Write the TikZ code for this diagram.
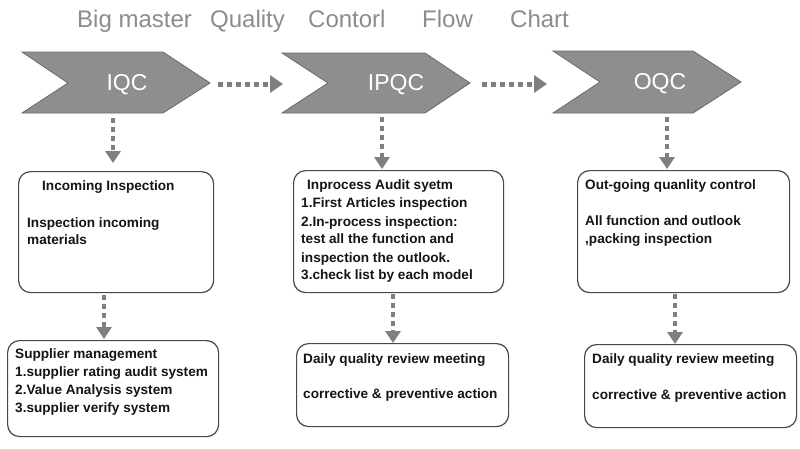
\documentclass[tikz,border=0pt]{standalone}
\usepackage{fontspec}
\setmainfont{Liberation Sans}
\usetikzlibrary{arrows.meta}
\definecolor{chevfill}{HTML}{8E8E8E}
\definecolor{chevline}{HTML}{6A6A6A}
\definecolor{arrowgray}{HTML}{7F7F7F}
\definecolor{titlegray}{HTML}{8C8C8C}
\definecolor{boxline}{HTML}{484848}
\definecolor{boxtext}{HTML}{151515}
\begin{document}
\begin{tikzpicture}[x=1pt,y=-1pt,
  chev/.style={fill=chevfill,draw=chevline,line width=0.8pt},
  chevtext/.style={text=white,font=\fontsize{23}{23}\selectfont,inner sep=0pt},
  titletext/.style={text=titlegray,font=\fontsize{24}{24}\selectfont,anchor=base west,inner sep=0pt},
  qbox/.style={draw=boxline,line width=1.2pt,rounded corners=12pt,fill=white,anchor=north west,inner sep=0pt},
  btext/.style={text=boxtext,font=\bfseries\fontsize{13.6}{13.6}\selectfont,anchor=base west,inner sep=0pt},
  hflow/.style={draw=arrowgray,line width=5pt,dash pattern=on 5pt off 4pt,-{Triangle[length=13pt,width=17pt]}},
  vflow/.style={draw=arrowgray,line width=4.5pt,dash pattern=on 5pt off 4pt,-{Triangle[length=12pt,width=15pt]}}
]
\useasboundingbox (0,0) rectangle (800,448);
\fill[white] (0,0) rectangle (800,448);

% title
\node[titletext] (t1) at (77,27) {Big master};
\node[titletext] (t2) at (210,27) {Quality};
\node[titletext] (t3) at (308,27) {Contorl};
\node[titletext] (t4) at (422,27) {Flow};
\node[titletext] (t5) at (510,27) {Chart};

% chevrons
\draw[chev] (22,52) -- (163,52) -- (210,83) -- (163,113) -- (22,113) -- (68,83) -- cycle;
\draw[chev] (282,53) -- (425,53) -- (470,83) -- (425,113) -- (282,113) -- (328,83) -- cycle;
\draw[chev] (553,51) -- (693,51) -- (741,82) -- (693,113) -- (553,113) -- (600,82) -- cycle;
\node[chevtext] (iqc) at (127,85) {IQC};
\node[chevtext] (ipqc) at (396,85) {IPQC};
\node[chevtext] (oqc) at (660,84) {OQC};

% horizontal connectors
\coordinate (iqcout) at (218,84);
\coordinate (ipqcin) at (283,84);
\coordinate (ipqcout) at (482,84);
\coordinate (oqcin) at (547,84);
\draw[hflow] (iqcout) -- (ipqcin);
\draw[hflow] (ipqcout) -- (oqcin);

% boxes
\node[qbox,minimum width=195pt,minimum height=121pt] (b1) at (18,171) {};
\node[qbox,minimum width=210pt,minimum height=122pt] (b2) at (293,170) {};
\node[qbox,minimum width=212pt,minimum height=122pt] (b3) at (577,170) {};
\node[qbox,minimum width=211pt,minimum height=96pt] (b4) at (7,340) {};
\node[qbox,minimum width=212pt,minimum height=83pt] (b5) at (296,343) {};
\node[qbox,minimum width=212pt,minimum height=83pt] (b6) at (584,344) {};

% vertical connectors
\coordinate (iqcdown) at (113,118);
\coordinate (b1in) at (113,163);
\coordinate (ipqcdown) at (382,117);
\coordinate (b2in) at (382,169);
\coordinate (oqcdown) at (667,117);
\coordinate (b3in) at (667,169);
\coordinate (b1out) at (104,295);
\coordinate (b4in) at (104,339);
\coordinate (b2out) at (393,294);
\coordinate (b5in) at (393,343);
\coordinate (b3out) at (675,294);
\coordinate (b6in) at (675,344);
\draw[vflow] (iqcdown) -- (b1in);
\draw[vflow] (ipqcdown) -- (b2in);
\draw[vflow] (oqcdown) -- (b3in);
\draw[vflow] (b1out) -- (b4in);
\draw[vflow] (b2out) -- (b5in);
\draw[vflow] (b3out) -- (b6in);

% box texts
\node[btext] (x11) at (42,190) {Incoming Inspection};
\node[btext] (x12) at (27,227) {Inspection incoming};
\node[btext] (x13) at (27,244) {materials};

\node[btext] (x21) at (307,189) {Inprocess Audit syetm};
\node[btext] (x22) at (301,207) {1.First Articles inspection};
\node[btext] (x23) at (301,226) {2.In-process inspection:};
\node[btext] (x24) at (301,243) {test all the function and};
\node[btext] (x25) at (301,262) {inspection the outlook.};
\node[btext] (x26) at (301,279) {3.check list by each model};

\node[btext] (x31) at (585,189) {Out-going quanlity control};
\node[btext] (x32) at (585,225) {All function and outlook};
\node[btext] (x33) at (585,243) {,packing inspection};

\node[btext] (x41) at (15,358) {Supplier management};
\node[btext] (x42) at (15,376) {1.supplier rating audit system};
\node[btext] (x43) at (15,394) {2.Value Analysis system};
\node[btext] (x44) at (15,412) {3.supplier verify system};

\node[btext] (x51) at (303,363) {Daily quality review meeting};
\node[btext] (x52) at (303,398) {corrective \& preventive action};

\node[btext] (x61) at (592,363) {Daily quality review meeting};
\node[btext] (x62) at (592,399) {corrective \& preventive action};
\end{tikzpicture}
\end{document}
